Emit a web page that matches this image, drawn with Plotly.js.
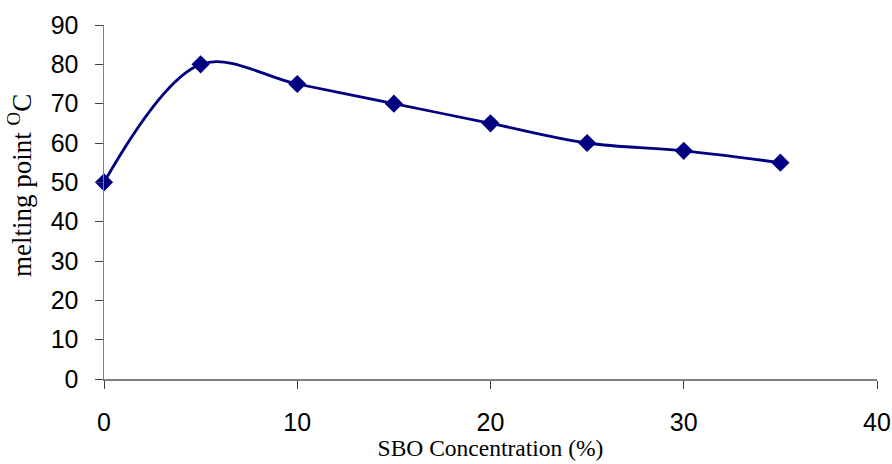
<!DOCTYPE html>
<html>
<head>
<meta charset="utf-8">
<script src="https://cdn.plot.ly/plotly-3.0.1.min.js"></script>
<style>html,body{margin:0;padding:0;background:#fff;}#chart{width:892px;height:464px;}</style>
</head>
<body>
<div id="chart"></div>
<script>
const sboConcentration = [0, 5, 10, 15, 20, 25, 30, 35];
const meltingPoint = [50, 80, 75, 70, 65, 60, 58, 55];
const xTicks = [0, 10, 20, 30, 40];
const yTicks = [0, 10, 20, 30, 40, 50, 60, 70, 80, 90];
const xTitle = 'SBO Concentration (%)';
const yTitle = 'melting point <sup>O</sup>C';

const trace = {
  x: sboConcentration,
  y: meltingPoint,
  type: 'scatter',
  mode: 'lines+markers',
  line: {color: '#000080', width: 2.8, shape: 'spline', smoothing: 1},
  marker: {symbol: 'diamond', size: 14, color: '#000080'},
  cliponaxis: false
};

const layout = {
  width: 892, height: 464,
  margin: {l: 104, r: 15, t: 25, b: 85},
  paper_bgcolor: '#ffffff', plot_bgcolor: '#ffffff',
  showlegend: false,
  font: {family: 'Liberation Sans, Arial, sans-serif', color: '#000', size: 25},
  xaxis: {
    range: [0, 40], tickvals: xTicks, ticktext: xTicks.map(String),
    showgrid: false, zeroline: false, showline: true, linecolor: '#808080', linewidth: 1.5,
    ticks: 'outside', ticklen: 8, tickcolor: '#404040', tickwidth: 1,
    ticklabelstandoff: 12,
    tickfont: {size: 25, family: 'Liberation Sans, Arial, sans-serif'},
    title: {text: xTitle, font: {family: 'Liberation Serif, Times New Roman, serif', size: 23.5}, standoff: 2}
  },
  yaxis: {
    range: [0, 90], tickvals: yTicks, ticktext: yTicks.map(String),
    showgrid: false, zeroline: false, showline: true, linecolor: '#808080', linewidth: 1.5,
    ticks: 'outside', ticklen: 8, tickcolor: '#404040', tickwidth: 1,
    ticklabelstandoff: 11,
    tickfont: {size: 25, family: 'Liberation Sans, Arial, sans-serif'}
  },
  annotations: [{
    text: yTitle, textangle: -90, showarrow: false,
    xref: 'paper', yref: 'paper', x: -0.1087, y: 0.548,
    xanchor: 'center', yanchor: 'middle',
    font: {family: 'Liberation Serif, Times New Roman, serif', size: 27, color: '#000'}
  }]
};

Plotly.newPlot('chart', [trace], layout, {displayModeBar: false, staticPlot: true});
</script>
</body>
</html>
